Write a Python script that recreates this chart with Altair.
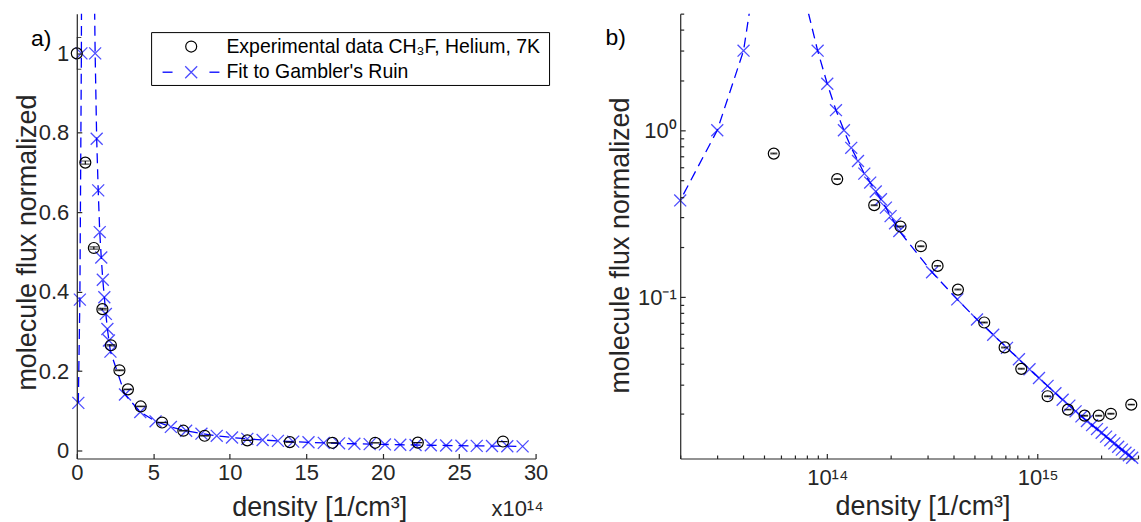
import altair as alt
import pandas as pd

FONT = "Liberation Sans"
AX = "#262626"
BLUE = "#0000ff"

# ---------------- data (density in units of 1e14 cm^-3) ----------------
exp_density = [0.0, 0.557, 1.115, 1.672, 2.23, 2.787, 3.344, 4.18, 5.574, 6.967,
               8.36, 11.15, 13.93, 16.72, 19.51, 22.3, 27.87]
exp_flux = [1.0, 0.725, 0.51, 0.356, 0.265, 0.202, 0.154, 0.111, 0.0705, 0.050,
            0.0372, 0.0255, 0.0212, 0.0195, 0.0195, 0.0200, 0.0227]
exp_err = [0.04, 0.004, 0.003, 0.002, 0.0015, 0.001, 0.0008, 0.0006, 0.0004, 0.0003,
           0.0002, 0.00015, 0.0001, 0.0001, 0.0001, 0.0001, 0.0001]

fit_density = [0.1, 0.2, 0.3, 0.4, 0.5, 0.6, 0.7, 0.8, 0.9, 1.0, 1.1, 1.2, 1.3, 1.4,
               1.5, 1.6, 1.7, 1.8, 1.9, 2.0, 2.1, 2.2, 3.15, 4.15, 5.15, 6.15, 7.15,
               8.15, 9.15, 10.15, 11.15, 12.15, 13.15, 14.15, 15.15, 16.15, 17.15,
               18.15, 19.15, 20.15, 21.15, 22.15, 23.15, 24.15, 25.15, 26.15, 27.15,
               28.15, 29.15]
fit_flux = [0.12, 0.38, 1.0, 3.0, 19.0, 60.0, 20.0, 5.5, 3.0, 1.9, 1.32, 1.0, 0.785,
            0.655, 0.55, 0.486, 0.43, 0.386, 0.344, 0.306, 0.277, 0.249, 0.141, 0.097,
            0.0735, 0.0595, 0.0497, 0.0425, 0.037, 0.0328, 0.0294, 0.0266, 0.0243,
            0.0224, 0.0207, 0.0193, 0.0181, 0.0171, 0.0162, 0.0154, 0.0146, 0.0139,
            0.0133, 0.0127, 0.0122, 0.0117, 0.0113, 0.0109, 0.0105]

lin_x_ticks = [0, 5, 10, 15, 20, 25, 30]
lin_y_ticks = [0, 0.2, 0.4, 0.6, 0.8, 1.0]
log_x_major = [1e14, 1e15]
log_x_minor = [2e13, 3e13, 4e13, 5e13, 6e13, 7e13, 8e13, 9e13,
               2e14, 3e14, 4e14, 5e14, 6e14, 7e14, 8e14, 9e14, 2e15, 3e15]
log_y_major = [0.1, 1.0]
log_y_minor = [0.02, 0.03, 0.04, 0.05, 0.06, 0.07, 0.08, 0.09,
               0.2, 0.3, 0.4, 0.5, 0.6, 0.7, 0.8, 0.9, 2, 3, 4, 5]

legend_labels = ["Experimental data CH\u2083F, Helium, 7K", "Fit to Gambler's Ruin"]

exp_df = pd.DataFrame({"d": exp_density, "flux": exp_flux, "err": exp_err})
exp_df["lo"] = exp_df["flux"] - exp_df["err"]
exp_df["hi"] = exp_df["flux"] + exp_df["err"]
exp_df["dens"] = exp_df["d"] * 1e14
fit_df = pd.DataFrame({"d": fit_density, "flux": fit_flux})
fit_df["dens"] = fit_df["d"] * 1e14

W, H = 460, 446
WR = 459
XSHAPE = "M-1,-1L1,1M-1,1L1,-1"

LOG_X_DOM = [2e13, 3e15]
LOG_Y_DOM = [0.0108, 5]
TITLE_SIZE = 27


def label_axis(orient, values, title, tx, ty, fsize, lpad, label_expr=None, fmt=None):
    kw = dict(orient=orient, values=values, ticks=False, labelFontSize=fsize,
              labelColor=AX, labelFont=FONT, labelPadding=lpad, labelFlush=False,
              labelOverlap=False, domainColor=AX,
              domainWidth=1.2, grid=False, title=title, titleFont=FONT,
              titleFontSize=TITLE_SIZE, titleFontWeight="normal", titleColor=AX,
              titleX=tx, titleY=ty, titleBaseline="middle", titleAlign="center",
              zindex=1)
    if orient == "left":
        kw["titleAngle"] = 270
    if label_expr is not None:
        kw["labelExpr"] = label_expr
    if fmt is not None:
        kw["format"] = fmt
    return alt.Axis(**kw)


def tick_axis(orient, values, offset, size):
    return alt.Axis(orient=orient, values=values, offset=offset, ticks=True,
                    tickSize=size, tickColor=AX, tickWidth=1.2, labels=False,
                    domain=False, grid=False, title=None, zindex=1)


# ---------------- panel a (linear) ----------------
xl = alt.Scale(domain=[0, 30], nice=False, zero=False)
yl = alt.Scale(domain=[-0.02, 1.1], nice=False, zero=False)

one = pd.DataFrame({"a": [0]})

bg = alt.Chart(one).mark_rect(fill="white", opacity=0).encode(
    x=alt.value(-77), x2=alt.value(1064), y=alt.value(-13), y2=alt.value(509))

a_line = alt.Chart(fit_df).mark_line(clip=True, color=BLUE, strokeWidth=1.3,
                                     strokeDash=[10, 6]).encode(
    x=alt.X("d:Q", scale=xl,
            axis=label_axis("bottom", lin_x_ticks, "density [1/cm\u00b3]", 243, 49, 22, 4, fmt="~g")),
    y=alt.Y("flux:Q", scale=yl,
            axis=label_axis("left", lin_y_ticks, "molecule flux normalized", -49, 229, 22, 8, fmt="~g")),
)
a_cross = alt.Chart(fit_df).transform_filter("datum.flux <= 1.1").mark_point(
    shape=XSHAPE, size=144, filled=False, color=BLUE, strokeWidth=1.3).encode(
    x=alt.X("d:Q", scale=xl, axis=tick_axis("top", lin_x_ticks, -H, 5)),
    y=alt.Y("flux:Q", scale=yl, axis=tick_axis("right", lin_y_ticks, -W, 5)),
)
a_err = alt.Chart(exp_df).mark_rule(clip=True, color="black", strokeWidth=1.2).encode(
    x=alt.X("d:Q", scale=xl, axis=None), y=alt.Y("lo:Q", scale=yl, axis=None), y2="hi:Q")
a_cap_lo = alt.Chart(exp_df).mark_tick(clip=True, orient="horizontal", size=9, thickness=1.2,
                                       color="black").encode(
    x=alt.X("d:Q", scale=xl, axis=None), y=alt.Y("lo:Q", scale=yl, axis=None))
a_cap_hi = alt.Chart(exp_df).mark_tick(clip=True, orient="horizontal", size=9, thickness=1.2,
                                       color="black").encode(
    x=alt.X("d:Q", scale=xl, axis=None), y=alt.Y("hi:Q", scale=yl, axis=None))
a_circ = alt.Chart(exp_df).mark_point(shape="circle", size=121, filled=False, color="black",
                                      strokeWidth=1.2, opacity=1).encode(
    x=alt.X("d:Q", scale=xl, axis=None), y=alt.Y("flux:Q", scale=yl, axis=None))

leg_box = alt.Chart(one).mark_rect(fill="white", stroke="black", strokeWidth=1).encode(
    x=alt.value(75), x2=alt.value(474), y=alt.value(19), y2=alt.value(72))
leg_circ = alt.Chart(one).mark_point(shape="circle", size=121, filled=False, color="black",
                                     strokeWidth=1.2, opacity=1).encode(
    x=alt.value(114.7), y=alt.value(33))
leg_dash1 = alt.Chart(one).mark_rule(color=BLUE, strokeWidth=1.3).encode(
    x=alt.value(86), x2=alt.value(96), y=alt.value(58.7))
leg_dash2 = alt.Chart(one).mark_rule(color=BLUE, strokeWidth=1.3).encode(
    x=alt.value(133), x2=alt.value(143), y=alt.value(58.7))
leg_cross = alt.Chart(one).mark_point(shape=XSHAPE, size=144, filled=False, color=BLUE,
                                      strokeWidth=1.3).encode(
    x=alt.value(114.7), y=alt.value(58.7))
leg_t1 = alt.Chart(one).mark_text(text=legend_labels[0], font=FONT, fontSize=19.5,
                                  align="left", baseline="middle", color="black").encode(
    x=alt.value(150), y=alt.value(33))
leg_t2 = alt.Chart(one).mark_text(text=legend_labels[1], font=FONT, fontSize=19.5,
                                  align="left", baseline="middle", color="black").encode(
    x=alt.value(150), y=alt.value(58.7))
a_lab = alt.Chart(one).mark_text(text="a)", font=FONT, fontSize=23, align="left",
                                 baseline="middle", color="black").encode(
    x=alt.value(-46), y=alt.value(25))
a_exp = alt.Chart(one).mark_text(text="x10\u00b9\u2074", font=FONT, fontSize=22, align="right",
                                 baseline="alphabetic", color=AX).encode(
    x=alt.value(468), y=alt.value(504))

panel_a = alt.layer(
    bg, a_line, a_cross, a_err, a_cap_lo, a_cap_hi, a_circ,
    leg_box, leg_circ, leg_dash1, leg_dash2, leg_cross, leg_t1, leg_t2, a_lab, a_exp
).resolve_axis(x="independent", y="independent").properties(width=W, height=H)

# ---------------- panel b (log-log) ----------------
xg = alt.Scale(type="log", domain=LOG_X_DOM, nice=False)
yg = alt.Scale(type="log", domain=LOG_Y_DOM, nice=False)

b_line = alt.Chart(fit_df).mark_line(clip=True, color=BLUE, strokeWidth=1.3,
                                     strokeDash=[10, 6]).encode(
    x=alt.X("dens:Q", scale=xg,
            axis=label_axis("bottom", log_x_major, "density [1/cm\u00b3]", 243, 48, 22, 9,
                            label_expr="datum.value < 5e14 ? '10\u00b9\u2074' : '10\u00b9\u2075'")),
    y=alt.Y("flux:Q", scale=yg,
            axis=label_axis("left", log_y_major, "molecule flux normalized", -60, 232, 22, 4,
                            label_expr="datum.value > 0.5 ? '10\u2070' : '10\u207b\u00b9'")),
)
b_cross = alt.Chart(fit_df).transform_filter(
    "datum.flux <= 5 && datum.flux >= 0.0108 && datum.dens >= 2e13").mark_point(
    shape=XSHAPE, size=144, filled=False, color=BLUE, strokeWidth=1.3).encode(
    x=alt.X("dens:Q", scale=xg, axis=tick_axis("top", log_x_major, -H, 5)),
    y=alt.Y("flux:Q", scale=yg, axis=tick_axis("right", log_y_major, -WR, 5)),
)
exp_pos = alt.Chart(exp_df).transform_filter("datum.dens > 0")
b_err = exp_pos.mark_rule(clip=True, color="black", strokeWidth=1.2).encode(
    x=alt.X("dens:Q", scale=xg, axis=tick_axis("top", log_x_minor, -H, 3.5)),
    y=alt.Y("lo:Q", scale=yg, axis=tick_axis("right", log_y_minor, -WR, 3.5)),
    y2="hi:Q")
b_cap_lo = exp_pos.mark_tick(clip=True, orient="horizontal", size=7, thickness=1.2,
                             color="black").encode(
    x=alt.X("dens:Q", scale=xg, axis=None), y=alt.Y("lo:Q", scale=yg, axis=None))
b_cap_hi = exp_pos.mark_tick(clip=True, orient="horizontal", size=7, thickness=1.2,
                             color="black").encode(
    x=alt.X("dens:Q", scale=xg, axis=None), y=alt.Y("hi:Q", scale=yg, axis=None))
b_circ = exp_pos.mark_point(shape="circle", size=121, filled=False, color="black",
                            strokeWidth=1.2, opacity=1).encode(
    x=alt.X("dens:Q", scale=xg, axis=None), y=alt.Y("flux:Q", scale=yg, axis=None))
b_lab = alt.Chart(one).mark_text(text="b)", font=FONT, fontSize=23, align="left",
                                 baseline="middle", color="black").encode(
    x=alt.value(-75), y=alt.value(24))

panel_b = alt.layer(
    b_line, b_cross, b_err, b_cap_lo, b_cap_hi, b_circ, b_lab
).resolve_axis(x="independent", y="independent").properties(width=WR, height=H)

chart = alt.hconcat(panel_a, panel_b, spacing=145, bounds="flush").properties(
    padding=0, background="white"
).configure(font=FONT).configure_view(stroke=None)

chart.save("out.html", embed_options={"renderer": "svg", "actions": False})
